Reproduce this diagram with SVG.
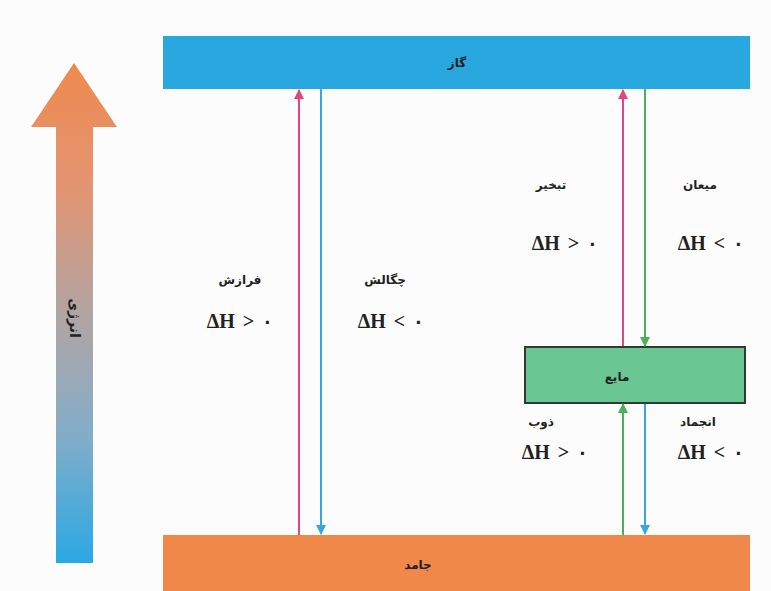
<svg xmlns="http://www.w3.org/2000/svg" width="771" height="591" viewBox="0 0 771 591">
<defs>
<linearGradient id="eg" x1="0" y1="0" x2="0" y2="1">
<stop offset="0" stop-color="#EF8A4E"/>
<stop offset="0.25" stop-color="#E29472"/>
<stop offset="0.5" stop-color="#B2A4A2"/>
<stop offset="0.75" stop-color="#82ADC9"/>
<stop offset="1" stop-color="#2AA8E2"/>
</linearGradient>
<marker id="mp" viewBox="0 0 10 10" refX="9" refY="5" markerWidth="10" markerHeight="10" markerUnits="userSpaceOnUse" orient="auto"><path d="M0,0 L10,5 L0,10 z" fill="#E2457F"/></marker>
<marker id="mb" viewBox="0 0 10 10" refX="9" refY="5" markerWidth="10" markerHeight="10" markerUnits="userSpaceOnUse" orient="auto"><path d="M0,0 L10,5 L0,10 z" fill="#3BA6DE"/></marker>
<marker id="mg" viewBox="0 0 10 10" refX="9" refY="5" markerWidth="10" markerHeight="10" markerUnits="userSpaceOnUse" orient="auto"><path d="M0,0 L10,5 L0,10 z" fill="#4CAF5A"/></marker>
</defs>
<style>
.t{font-family:"DejaVu Sans","Noto Sans",sans-serif;font-weight:bold;font-size:12px;fill:#222;text-anchor:middle}
.dh{font-family:"Liberation Serif","DejaVu Serif",serif;font-weight:bold;font-size:20px;word-spacing:3px;fill:#222;text-anchor:middle}
.p{stroke:#E2457F;stroke-width:2;fill:none;marker-end:url(#mp)}
.b{stroke:#3BA6DE;stroke-width:2;fill:none;marker-end:url(#mb)}
.g{stroke:#4CAF5A;stroke-width:2;fill:none;marker-end:url(#mg)}
</style>
<rect width="771" height="591" fill="#FCFCFC"/>
<g id="energy">
<path d="M56,563 L56,127 L31,127 L74,63 L117,127 L93,127 L93,563 Z" fill="url(#eg)"/>
<text class="t" style="font-size:14px" transform="translate(70,318) rotate(90)">انرژی</text>
</g>
<g id="gas">
<rect x="163" y="36" width="587" height="53" fill="#29A8E0"/>
<text class="t" x="457" y="67">گاز</text>
</g>
<g id="solid">
<rect x="163" y="535" width="587" height="56" fill="#F0884A"/>
<text class="t" x="418" y="569">جامد</text>
</g>
<g id="liquid">
<rect x="525" y="347" width="220" height="56" fill="#6AC693" stroke="#2E3A33" stroke-width="2"/>
<text class="t" x="617" y="381">مایع</text>
</g>
<g id="connectors">
<line class="p" x1="299" y1="535" x2="299" y2="90"/>
<line class="b" x1="321" y1="89" x2="321" y2="534"/>
<line class="p" x1="623" y1="346" x2="623" y2="90"/>
<line class="g" x1="645" y1="89" x2="645" y2="346"/>
<line class="g" x1="623" y1="535" x2="623" y2="404"/>
<line class="b" x1="645" y1="404" x2="645" y2="534"/>
</g>
<g id="labels">
<text class="t" x="240" y="284">فرازش</text>
<text class="dh" x="240" y="328">ΔH &gt; ۰</text>
<text class="t" x="385" y="284">چگالش</text>
<text class="dh" x="391" y="328">ΔH &lt; ۰</text>
<text class="t" x="551" y="189">تبخیر</text>
<text class="dh" x="565" y="250">ΔH &gt; ۰</text>
<text class="t" x="700" y="189">میعان</text>
<text class="dh" x="711" y="250">ΔH &lt; ۰</text>
<text class="t" x="541" y="426">ذوب</text>
<text class="dh" x="555" y="459">ΔH &gt; ۰</text>
<text class="t" x="698" y="426">انجماد</text>
<text class="dh" x="711" y="459">ΔH &lt; ۰</text>
</g>
</svg>
